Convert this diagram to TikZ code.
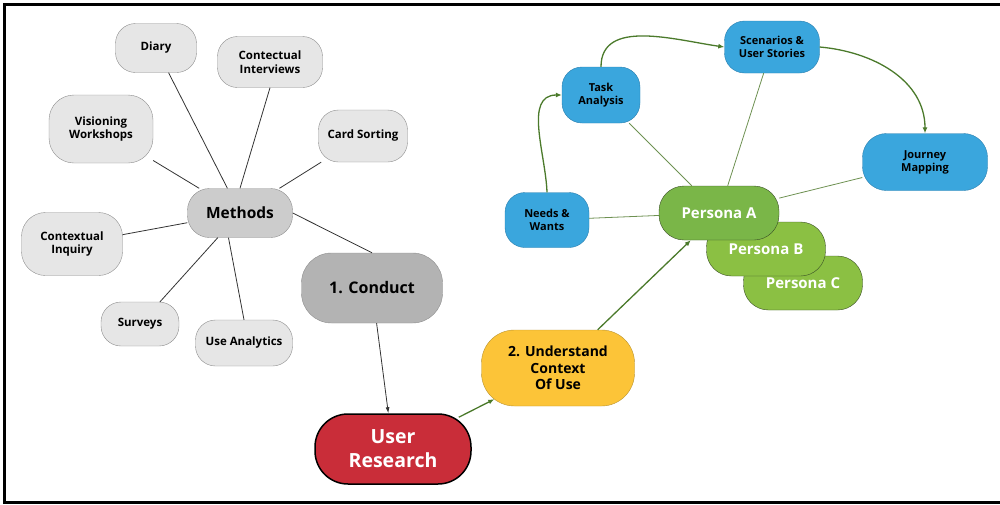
\documentclass[tikz,border=0pt]{standalone}
\usepackage{fontspec}
\setmainfont{Open Sans}
\usepackage{tikz}
\usetikzlibrary{arrows.meta}

\definecolor{lightgrey}{HTML}{E6E6E6}
\definecolor{midgrey}{HTML}{CCCCCC}
\definecolor{darkgrey}{HTML}{B3B3B3}
\definecolor{greyline}{HTML}{8E8E8E}
\definecolor{urred}{HTML}{C92D39}
\definecolor{ctxyellow}{HTML}{FCC438}
\definecolor{ctxline}{HTML}{B8922E}
\definecolor{skyblue}{HTML}{3AA6DD}
\definecolor{skyline}{HTML}{2A7FAE}
\definecolor{persgreen}{HTML}{7AB648}
\definecolor{persgreenlt}{HTML}{8BC043}
\definecolor{persline}{HTML}{3A4F26}
\definecolor{arrowgreen}{HTML}{4B7A2B}
\definecolor{linkgreen}{HTML}{6E9152}

\begin{document}
\begin{tikzpicture}[x=1pt,y=1pt,
	pill/.style={draw,align=center,inner sep=0pt,font=\bfseries\fontsize{11.5}{13.5}\selectfont},
	greybox/.style={pill,fill=lightgrey,draw=greyline,rounded corners=20pt},
	bluebox/.style={pill,fill=skyblue,draw=skyline,rounded corners=20pt,font=\bfseries\fontsize{11}{13}\selectfont},
	personabox/.style={pill,fill=persgreenlt,draw=persline,text=white,rounded corners=25pt,
		minimum width=119pt,minimum height=54pt,font=\bfseries\fontsize{15}{18}\selectfont},
	spoke/.style={draw=black!80,line width=0.8pt},
	link/.style={draw=linkgreen,line width=0.8pt},
	flow/.style={draw=arrowgreen,line width=1.3pt,-{Latex[length=6pt,width=5pt]}}]
	\useasboundingbox (0,0) rectangle (1000,-504);
	\draw[line width=3pt] (1000,-4.5) -- (4.5,-4.5) -- (4.5,-502.5) -- (1000,-502.5);

	% methods
	\node[greybox,minimum width=81pt,minimum height=49pt] (diary) at (156,-48) {Diary};
	\node[greybox,minimum width=105pt,minimum height=51pt] (interviews) at (270,-62) {Contectual\\Interviews};
	\node[greybox,minimum width=104pt,minimum height=68pt,rounded corners=25pt] (workshops) at (101,-129) {Visioning\\Workshops};
	\node[greybox,minimum width=89pt,minimum height=52pt] (cardsort) at (363,-136) {Card Sorting};
	\node[greybox,minimum width=101pt,minimum height=63pt,rounded corners=24pt] (inquiry) at (72,-244) {Contextual\\Inquiry};
	\node[greybox,minimum width=78pt,minimum height=44pt] (surveys) at (140,-324) {Surveys};
	\node[greybox,minimum width=97pt,minimum height=46pt] (analytics) at (244,-343) {Use Analytics};
	\node[greybox,fill=midgrey,minimum width=105pt,minimum height=49pt,rounded corners=22pt,
		font=\bfseries\fontsize{15.5}{18}\selectfont] (methods) at (240,-213) {Methods};

	% stages
	\node[pill,fill=darkgrey,draw=greyline,minimum width=141pt,minimum height=70pt,rounded corners=30pt,
		font=\bfseries\fontsize{16}{19}\selectfont] (conduct) at (372,-288) {1. Conduct};
	\node[pill,fill=urred,draw=black,line width=1.5pt,text=white,minimum width=156pt,minimum height=70pt,
		rounded corners=33pt,font=\bfseries\fontsize{19.5}{24}\selectfont] (research) at (393,-449) {User\\Research};
	\node[pill,fill=ctxyellow,draw=ctxline,minimum width=153pt,minimum height=76pt,rounded corners=33pt,
		font=\bfseries\fontsize{14}{16.5}\selectfont] (context) at (558,-368) {2. Understand\\Context\\Of Use};

	% personas
	\node[personabox] (personaC) at (803,-283) {Persona C};
	\node[personabox] (personaB) at (766,-249) {Persona B};
	\node[personabox,fill=persgreen,minimum width=120pt] (personaA) at (719,-213) {Persona A};

	\node[bluebox,minimum width=84pt,minimum height=55pt] (needs) at (547,-220) {Needs \&\\Wants};
	\node[bluebox,minimum width=78pt,minimum height=56pt] (task) at (601,-95) {Task\\Analysis};
	\node[bluebox,minimum width=95pt,minimum height=52pt] (stories) at (772,-47) {Scenarios \&\\User Stories};
	\node[bluebox,minimum width=125pt,minimum height=57pt,rounded corners=24pt] (journey) at (925,-162) {Journey\\Mapping};

	\draw[spoke] (methods) -- (diary);
	\draw[spoke] (methods.north) -- (interviews.south);
	\draw[spoke] (methods) -- (workshops);
	\draw[spoke] (methods) -- (cardsort);
	\draw[spoke] (methods) -- (inquiry);
	\draw[spoke] (methods) -- (surveys);
	\draw[spoke] (methods.-115) -- (analytics.north);
	\draw[spoke] (methods.east) -- (conduct.north);
	\draw[spoke,-{Latex[length=6pt,width=4pt]}] (conduct) -- (research);

	\draw[flow] ([xshift=-13pt,yshift=-4pt]research.north east) -- ([xshift=13pt,yshift=7pt]context.south west);
	\draw[flow] (context) -- (personaA);

	\draw[link] (personaA) -- (needs);
	\draw[link] (personaA) -- (task);
	\draw[link] (personaA) -- (stories);
	\draw[link] (personaA) -- (journey);

	\draw[flow] (needs.north) to[out=92,in=180] (task.west);
	\draw[flow] (task.north) to[out=90,in=172] (stories.west);
	\draw[flow] (stories.east) to[out=-5,in=90] (journey.north);
\end{tikzpicture}
\end{document}
